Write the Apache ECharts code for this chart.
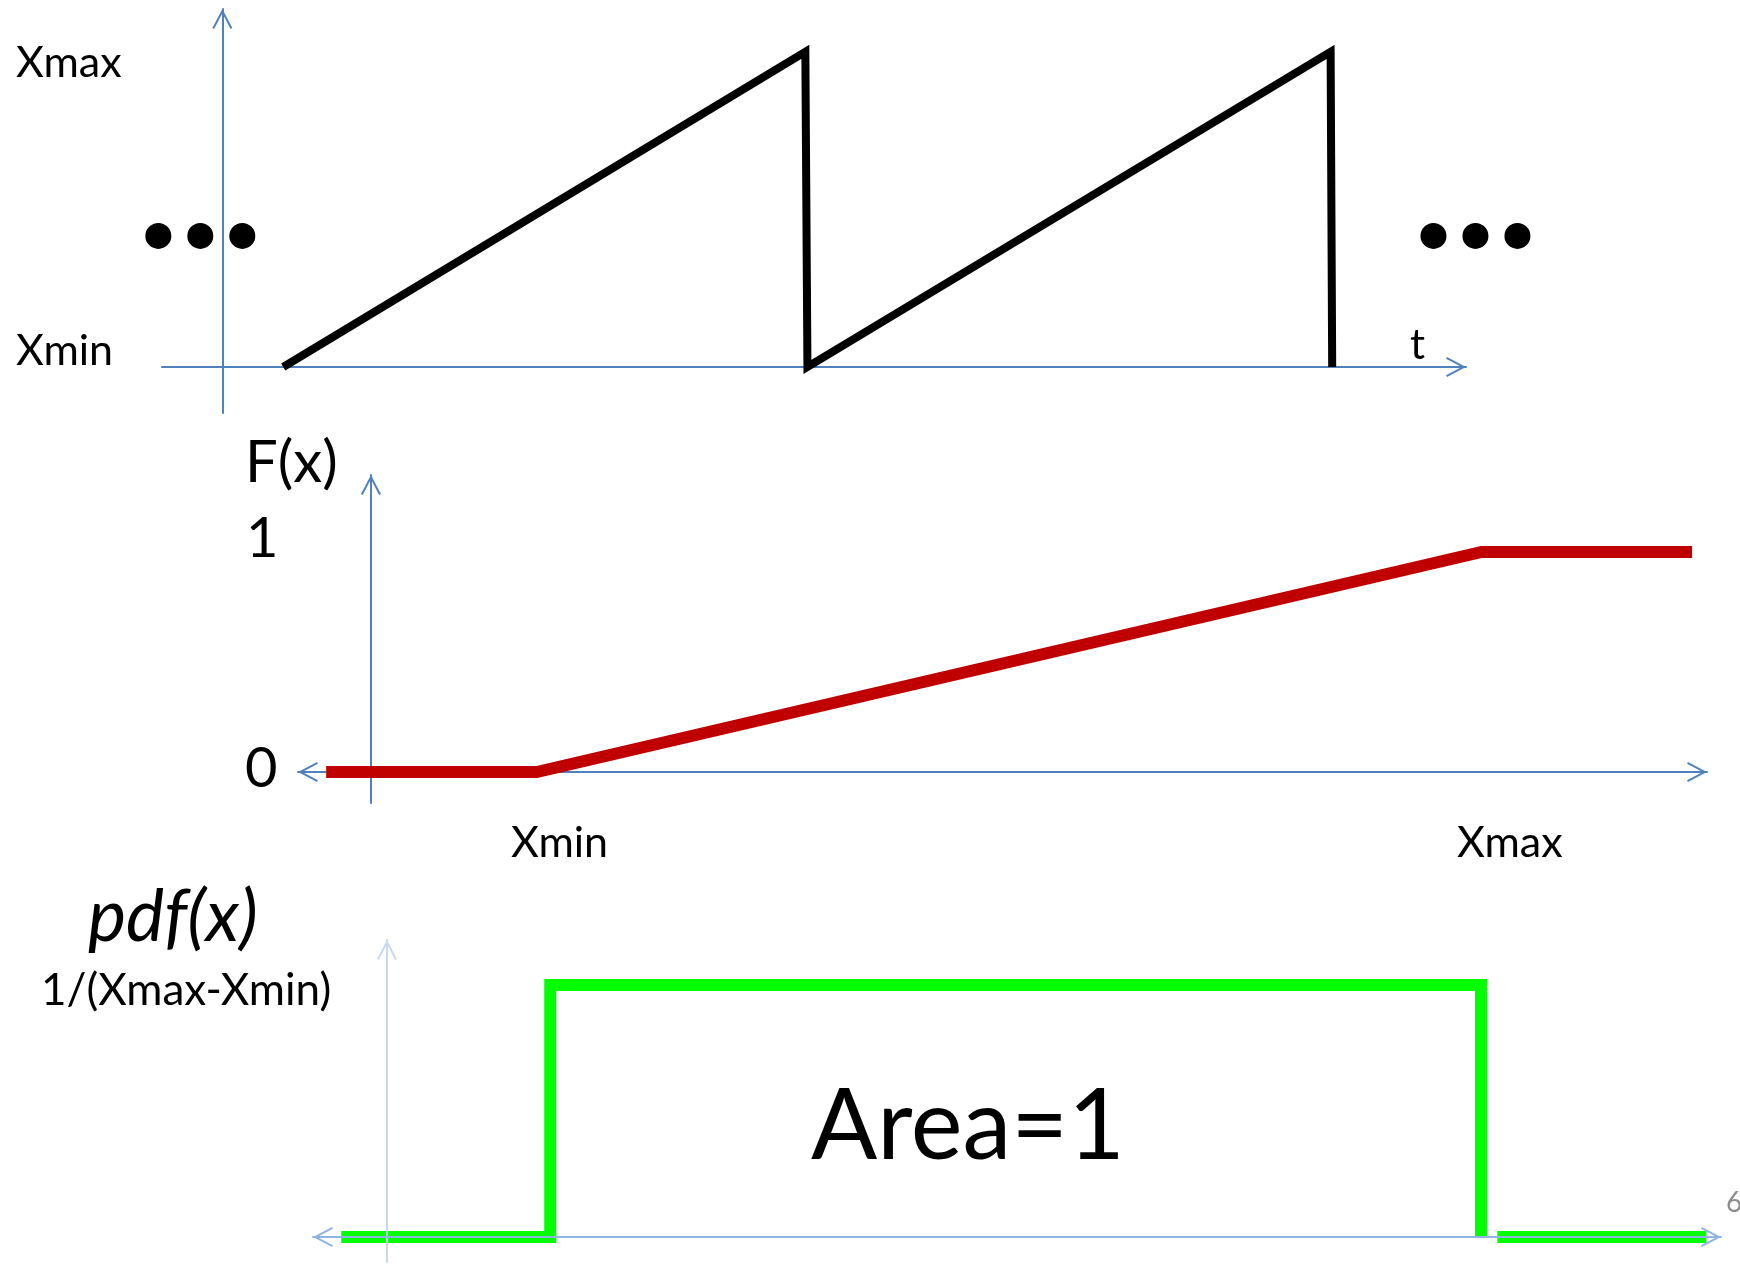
<!DOCTYPE html>
<html>
<head>
<meta charset="utf-8">
<script src="https://cdn.jsdelivr.net/npm/echarts@6/dist/echarts.min.js"></script>
<style>
  html, body { margin: 0; padding: 0; background: #ffffff; }
  #chart { width: 1740px; height: 1264px; }
</style>
</head>
<body>
<div id="chart"></div>
<script>
// ---- Sawtooth signal over time (level 0 = Xmin, level 1 = Xmax) ----
const sawTime  = [1.16, 11.11, 11.15, 21.12, 21.15];
const sawLevel = [0, 1, 0, 1, 0];
// continuation dots on both sides of the signal
const dotTime  = [-1.22, -0.42, 0.38, 23.08, 23.88, 24.68];
const dotLevel = [0.416, 0.416, 0.416, 0.416, 0.416, 0.416];
const sawLevelLabels = ['Xmax', 'Xmin'];
const timeLabel = 't';

// ---- Uniform distribution bounds ----
const xMin = 1;
const xMax = 6.7;

// ---- Cumulative distribution F(x) ----
const cdfX = [-0.27, xMin, xMax, 7.97];
const cdfY = [0, 0, 1, 1];
const cdfTitle = 'F(x)';
const cdfLevelLabels = ['1', '0'];
const boundLabels = ['Xmin', 'Xmax'];

// ---- Density pdf(x) = 1/(Xmax-Xmin) inside the bounds ----
const pdfHeight = 1 / (xMax - xMin);
const pdfX = [-0.28, xMin, xMin, xMax, xMax];
const pdfY = [0, 0, pdfHeight, pdfHeight, 0];
const pdfTailX = [6.8, 8.08];
const pdfTailY = [0, 0];
const pdfTitle = 'pdf(x)';
const pdfLevelLabel = '1/(Xmax-Xmin)';
const areaLabel = 'Area=1';
const pageNumber = '6';

const zip = (xs, ys) => xs.map((x, i) => [x, ys[i]]);

// open chevron arrow head (points up; ECharts rotates it along the axis)
const chevron = 'path://M10,0L20,19L18.23,19.93L10,4.29L1.77,19.93L0,19Z';

function axisLine(color, width, arrows) {
  return {
    show: true,
    onZero: true,
    symbol: arrows,
    symbolSize: [20, 20],
    symbolOffset: [10, -10],
    lineStyle: { color: color, width: width }
  };
}
const bare = {
  axisTick: { show: false },
  axisLabel: { show: false },
  splitLine: { show: false }
};

const AXIS = '#4F81BD';
const FONT = 'Lato';

function label(text, x, y, size, extra) {
  return Object.assign({
    type: 'text',
    x: x, y: y,
    style: {
      text: text,
      font: size + 'px ' + FONT,
      fill: '#000000',
      align: 'left',
      verticalAlign: 'middle'
    }
  }, extra || {});
}

const chart = echarts.init(document.getElementById('chart'), null, { renderer: 'canvas' });

chart.setOption({
  backgroundColor: '#ffffff',
  animation: false,
  grid: [
    { left: 162, top: 9,   width: 1304, height: 404 },
    { left: 298, top: 475, width: 1409, height: 328 },
    { left: 313, top: 940, width: 1408, height: 322 }
  ],
  xAxis: [
    Object.assign({ type: 'value', gridIndex: 0, min: -1.15, max: 23.7,
      axisLine: axisLine(AXIS, 2, ['none', chevron]) }, bare),
    Object.assign({ type: 'value', gridIndex: 1, min: -0.44, max: 8.06,
      axisLine: axisLine(AXIS, 2, [chevron, chevron]) }, bare),
    Object.assign({ type: 'value', gridIndex: 2, min: -0.453, max: 8.17, z: 5,
      axisLine: axisLine('#8EB4E3', 2, [chevron, chevron]) }, bare)
  ],
  yAxis: [
    Object.assign({ type: 'value', gridIndex: 0, min: -0.146, max: 1.136,
      axisLine: axisLine(AXIS, 2, ['none', chevron]) }, bare),
    Object.assign({ type: 'value', gridIndex: 1, min: -0.141, max: 1.35,
      axisLine: axisLine(AXIS, 2, ['none', chevron]) }, bare),
    Object.assign({ type: 'value', gridIndex: 2, min: -0.0174, max: 0.2067, z: 5,
      axisLine: axisLine('#C6D9F1', 2, ['none', chevron]) }, bare)
  ],
  series: [
    {
      name: 'sawtooth', type: 'line', xAxisIndex: 0, yAxisIndex: 0,
      data: zip(sawTime, sawLevel), showSymbol: false, silent: true,
      lineStyle: { color: '#000000', width: 8, join: 'miter', cap: 'butt' }
    },
    {
      name: 'continuation', type: 'scatter', xAxisIndex: 0, yAxisIndex: 0,
      data: zip(dotTime, dotLevel), symbol: 'circle', symbolSize: 26, clip: false,
      itemStyle: { color: '#000000', opacity: 1 }, silent: true
    },
    {
      name: 'F(x)', type: 'line', xAxisIndex: 1, yAxisIndex: 1,
      data: zip(cdfX, cdfY), showSymbol: false, silent: true,
      lineStyle: { color: '#C00000', width: 12, join: 'miter', cap: 'butt' }
    },
    {
      name: 'pdf(x)', type: 'line', xAxisIndex: 2, yAxisIndex: 2,
      data: zip(pdfX, pdfY), showSymbol: false, silent: true,
      lineStyle: { color: '#00FF00', width: 12, join: 'miter', cap: 'butt' }
    },
    {
      name: 'pdf tail', type: 'line', xAxisIndex: 2, yAxisIndex: 2,
      data: zip(pdfTailX, pdfTailY), showSymbol: false, silent: true,
      lineStyle: { color: '#00FF00', width: 12, cap: 'butt' }
    }
  ],
  graphic: [
    label(sawLevelLabels[0], 16, 63, 43),
    label(sawLevelLabels[1], 16, 351, 43),
    label(timeLabel, 1410, 345, 42),
    label(cdfTitle, 245, 463, 58),
    label(cdfLevelLabels[0], 246, 539, 56),
    label(cdfLevelLabels[1], 245, 769, 56),
    label(boundLabels[0], 511, 843, 43),
    label(boundLabels[1], 1457, 843, 43),
    {
      type: 'text', x: 88, y: 918,
      style: { text: pdfTitle, font: 'italic 72px ' + FONT, fill: '#000000', align: 'left', verticalAlign: 'middle' }
    },
    label(pdfLevelLabel, 41, 991, 44),
    label(areaLabel, 811, 1127, 98),
    {
      type: 'text', x: 1726, y: 1203,
      style: { text: pageNumber, font: '28px ' + FONT, fill: '#8C8C8C', align: 'left', verticalAlign: 'middle' }
    }
  ]
});
</script>
</body>
</html>
